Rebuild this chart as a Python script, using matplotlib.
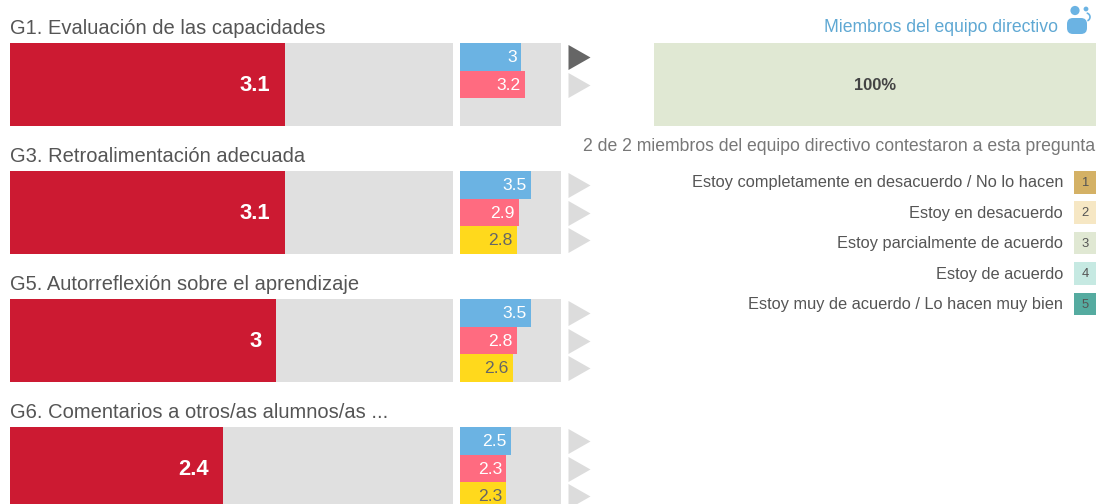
import matplotlib
matplotlib.use("Agg")
import matplotlib.pyplot as plt
from matplotlib.patches import Circle, FancyBboxPatch, Arc

plt.rcParams['font.family'] = ['Liberation Sans', 'DejaVu Sans']

titles = ["G1. Evaluación de las capacidades", "G3. Retroalimentación adecuada",
          "G5. Autorreflexión sobre el aprendizaje", "G6. Comentarios a otros/as alumnos/as ..."]
main_values = [3.1, 3.1, 3.0, 2.4]
main_labels = ["3.1", "3.1", "3", "2.4"]
blue_values = [3.0, 3.5, 3.5, 2.5]
blue_labels = ["3", "3.5", "3.5", "2.5"]
pink_values = [3.2, 2.9, 2.8, 2.3]
yellow_values = [None, 2.8, 2.6, 2.3]
dark_triangle = [[True, False], [False, False, False], [False, False, False], [False, False, False]]
legend_labels = ["Estoy completamente en desacuerdo / No lo hacen", "Estoy en desacuerdo",
                 "Estoy parcialmente de acuerdo", "Estoy de acuerdo",
                 "Estoy muy de acuerdo / Lo hacen muy bien"]
legend_numbers = ["1", "2", "3", "4", "5"]
legend_colors = ["#d4b165", "#f6e7c4", "#e0e8d3", "#c6e9e2", "#55aba0"]
share_value = 100
share_label = "100%"
answered = "2 de 2 miembros del equipo directivo contestaron a esta pregunta"
role = "Miembros del equipo directivo"

W, H = 1096, 504
RED, BLUE, PINK, YELLOW, GREY = "#cc1a32", "#6bb3e3", "#ff6b80", "#ffd91c", "#e0e0e0"
TEXT = "#555555"
fig = plt.figure(figsize=(W / 100, H / 100), dpi=100)
fs = lambda px: px * 0.72


def pax(x0, y0, x1, y1):
    ax = fig.add_axes([x0 / W, 1 - y1 / H, (x1 - x0) / W, (y1 - y0) / H])
    ax.set_axis_off()
    return ax


def ftext(x, y, s, **kw):
    fig.text(x / W, 1 - y / H, s, **kw)


tops = [43, 171, 299, 427]
tri = [(0, -12.5), (22, 0), (0, 12.5)]
for i, top in enumerate(tops):
    bottom = top + 83
    ftext(10, top - 14.5, titles[i], fontsize=fs(20.2), color=TEXT, va="center", ha="left")

    ax = pax(10, top, 453, bottom)
    ax.set_xlim(0, 5)
    ax.set_ylim(0, 1)
    ax.barh(0.5, 5, height=1, color=GREY)
    ax.barh(0.5, main_values[i], height=1, color=RED)
    ax.text(main_values[i] - 0.16, 0.49, main_labels[i], color="white", fontweight="bold",
            fontsize=fs(22), ha="right", va="center")

    ax = pax(460, top, 561, bottom)
    ax.set_xlim(0, 5)
    ax.set_ylim(3, 0)
    ax.barh(1.5, 5, height=3, color=GREY)
    sub = [(blue_values[i], BLUE, blue_labels[i], "white"),
           (pink_values[i], PINK, f"{pink_values[i]:g}", "white"),
           (yellow_values[i], YELLOW, None, "#666666")]
    sub = [s for s in sub if s[0] is not None]
    for k, (val, col, lab, tc) in enumerate(sub):
        ax.barh(k + 0.5, val, height=1, color=col)
        ax.text(val - 0.2, k + 0.52, lab if lab else f"{val:g}", color=tc, fontsize=fs(17.5),
                ha="right", va="center")

    ax = pax(568, top, 590, bottom)
    ax.set_xlim(0, 1)
    ax.set_ylim(3, 0)
    for k, dark in enumerate(dark_triangle[i]):
        ax.plot([0], [k + 0.5], marker=tri, markersize=31.7, linestyle="none",
                markeredgewidth=0, color="#666666" if dark else "#dcdcdc", clip_on=False)

ax = pax(654, 43, 1096, 126)
ax.set_xlim(0, 100)
ax.set_ylim(0, 1)
ax.barh(0.5, share_value, height=1, color=legend_colors[2])
ax.text(50, 0.49, share_label, color="#444444", fontweight="bold", fontsize=fs(16.5), ha="center", va="center")

ftext(1095.5, 146, answered, fontsize=fs(17.6), color="#777777", ha="right", va="center")
ftext(1058, 27.5, role, fontsize=fs(17.6), color="#5fa8d3", ha="right", va="center")

ax = pax(0, 0, W, H)
ax.set_xlim(0, W)
ax.set_ylim(H, 0)
ax.add_patch(FancyBboxPatch((1067, 18), 20, 16, boxstyle="round,pad=0,rounding_size=6", fc=BLUE, ec="none"))
ax.add_patch(Circle((1075, 10.5), 4.6, fc=BLUE, ec="none"))
ax.add_patch(Circle((1086, 9), 2.4, fc=BLUE, ec="none"))
ax.add_patch(Arc((1086, 17), 8, 8, theta1=-80, theta2=70, ec=BLUE, lw=1.2))

for i in range(5):
    top = 171 + i * 30.4
    ax_l = pax(1074, top, 1096, top + 22.5)
    ax_l.set_xlim(0, 1)
    ax_l.set_ylim(0, 1)
    ax_l.barh(0.5, 1, height=1, color=legend_colors[i])
    ax_l.text(0.5, 0.47, legend_numbers[i], fontsize=fs(13), color="#555555", ha="center", va="center")
    ftext(1063, top + 12, legend_labels[i], fontsize=fs(16.35), color="#555555", ha="right", va="center")

fig.savefig("out.png", dpi=100)
